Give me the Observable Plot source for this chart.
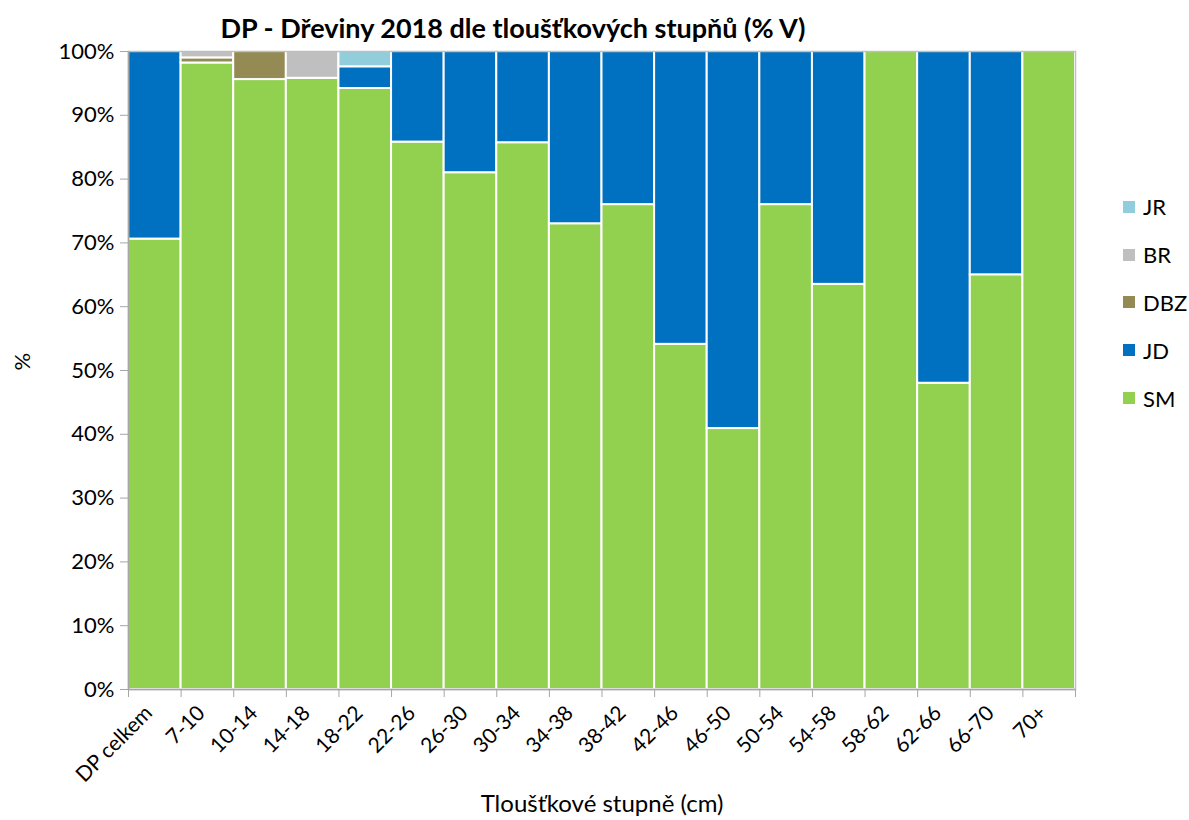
<!DOCTYPE html>
<html><head><meta charset="utf-8">
<script src="https://cdn.jsdelivr.net/npm/d3@7"></script>
<script src="https://cdn.jsdelivr.net/npm/@observablehq/plot@0.6"></script>
<style>
html,body{margin:0;padding:0;background:#fff;}
#wrap{position:relative;width:1189px;height:820px;font-family:Lato,"Open Sans",sans-serif;}
#legend{position:absolute;left:1123px;top:183px;}
.li{display:flex;align-items:center;height:47.8px;font-size:22px;color:#000;}
.sw{width:12px;height:12px;margin-right:8px;}
</style></head>
<body><div id="wrap"><div id="legend"></div></div>
<script>
const categories = ["DP celkem","7-10","10-14","14-18","18-22","22-26","26-30","30-34","34-38","38-42","42-46","46-50","50-54","54-58","58-62","62-66","66-70","70+"];
const species = ["SM","JD","DBZ","BR","JR"];
const colors = ["#92D050","#0070C0","#948A54","#BFBFBF","#92CDDC"];
const SM  = [70.6,98.2,95.6,95.8,94.2,85.8,81.0,85.7,73.0,76.0,54.1,40.9,76.0,63.5,100,48.0,65.0,100];
const JD  = [29.4,0,0,0,3.4,14.2,19.0,14.3,27.0,24.0,45.9,59.1,24.0,36.5,0,52.0,35.0,0];
const DBZ = [0,0.8,4.4,0,0,0,0,0,0,0,0,0,0,0,0,0,0,0];
const BR  = [0,1.0,0,4.2,0,0,0,0,0,0,0,0,0,0,0,0,0,0];
const JR  = [0,0,0,0,2.4,0,0,0,0,0,0,0,0,0,0,0,0,0];
const yTicks = [0,10,20,30,40,50,60,70,80,90,100];
const title = "DP - Dřeviny 2018 dle tloušťkových stupňů (% V)";
const xTitle = "Tloušťkové stupně (cm)";
const yTitle = "%";

const series = {SM, JD, DBZ, BR, JR};
const data = [];
categories.forEach((c, i) => species.forEach(s => data.push({cat: c, species: s, value: series[s][i]})));

const W = 1189, H = 820, mL = 128, mR = 114, mT = 51, mB = 131;
const bw = (W - mL - mR) / categories.length;
const axisGray = "#a6a6a6";

const chart = Plot.plot({
  width: W, height: H,
  marginLeft: mL, marginRight: mR, marginTop: mT, marginBottom: mB,
  style: {fontFamily: "Lato, 'Open Sans', sans-serif", fontSize: "22px", color: "#000", background: "transparent"},
  x: {domain: categories, padding: 0, round: false, label: null, axis: null},
  y: {domain: [0, 100], label: null, axis: null},
  color: {domain: species, range: colors},
  marks: [
    Plot.barY(data, {x: "cat", y: "value", fill: "species", z: "species", order: species, stroke: "white", strokeWidth: 2}),
    Plot.frame({stroke: "#bfbfbf", strokeWidth: 1.5}),
    Plot.ruleY([0], {stroke: axisGray, strokeWidth: 1.5}),
    Plot.ruleX([categories[0]], {stroke: axisGray, strokeWidth: 1.5, dx: -bw/2}),
    Plot.axisY({ticks: yTicks, tickFormat: d => d + "%", tickSize: 8, tickPadding: 6, stroke: axisGray, fontSize: 22}),
    Plot.axisX({tickSize: 8, tickFormat: () => "", dx: -bw/2, stroke: axisGray}),
    Plot.axisX([categories[categories.length-1]], {tickSize: 8, tickFormat: () => "", dx: bw/2, stroke: axisGray}),
    Plot.axisX({tickSize: 0, tickRotate: -45, tickPadding: 20, dx: -6, fontSize: 21}),
    Plot.text([title], {frameAnchor: "top", dy: -33, dx: -89, fontWeight: "bold", fontSize: 27}),
    Plot.text([xTitle], {frameAnchor: "bottom", dy: 122, fontSize: 24}),
    Plot.text([yTitle], {frameAnchor: "left", dx: -106, rotate: -90, fontSize: 22})
  ]
});
const wrap = document.getElementById("wrap");
wrap.insertBefore(chart, wrap.firstChild);

const legend = document.getElementById("legend");
species.slice().reverse().forEach(s => {
  const i = species.indexOf(s);
  const d = document.createElement("div");
  d.className = "li";
  d.innerHTML = `<span class="sw" style="background:${colors[i]}"></span><span>${s}</span>`;
  legend.appendChild(d);
});
</script></body></html>
